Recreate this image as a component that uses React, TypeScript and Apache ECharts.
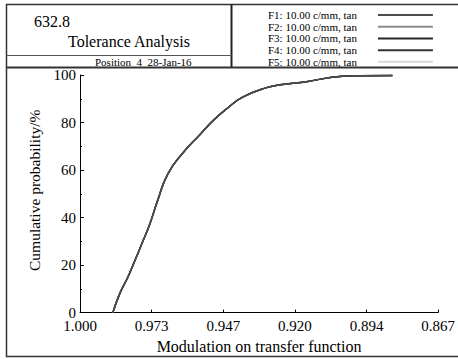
import React, { useEffect, useRef } from "react";
import * as echarts from "echarts";

// ---- data ----
const seriesNames = [
  "F1: 10.00 c/mm, tan",
  "F2: 10.00 c/mm, tan",
  "F3: 10.00 c/mm, tan",
  "F4: 10.00 c/mm, tan",
  "F5: 10.00 c/mm, tan",
];
const modulation = [
  0.9878, 0.9852, 0.9822, 0.9796, 0.977, 0.9741, 0.9711, 0.9674, 0.9618,
  0.9555, 0.9504, 0.9455, 0.9396, 0.9307, 0.9248, 0.9159, 0.9026, 0.8963,
  0.884,
];
const cumulative = [
  0, 8.1, 15, 21.9, 29.1, 37.2, 47.4, 58.3, 67.2, 74.9, 81, 85.8, 90.7, 94.7,
  96, 97.2, 99.5, 99.7, 99.8,
];
const xTicks = [1.0, 0.9734, 0.9468, 0.9202, 0.8936, 0.867];
const headerValue = "632.8";
const headerTitle = "Tolerance Analysis";
const headerSub = "Position  4  28-Jan-16";
const xName = "Modulation on transfer function";
const yName = "Cumulative probability/%";

// ---- styles ----
const FONT = "'Liberation Serif', 'Times New Roman', 'DejaVu Serif', serif";
const LINE_COLORS = ["#4d4d4d", "#8c8c8c", "#262626", "#333333", "#d9d9d9"];
const LINE_Z = [6, 3, 5, 4, 2];

export default function App() {
  const ref = useRef<HTMLDivElement>(null);
  useEffect(() => {
    if (!ref.current) return;
    const chart = echarts.init(ref.current, null, { renderer: "svg" });
    const points = modulation.map((m, i) => [m, cumulative[i]]);
    chart.setOption({
      animation: false,
      textStyle: { fontFamily: FONT },
      grid: { left: 80, right: 19, top: 75, bottom: 37.5 },
      legend: {
        orient: "vertical",
        left: 268,
        top: 9.2,
        padding: 0,
        align: "right",
        icon: "rect",
        itemWidth: 55,
        itemHeight: 2,
        itemGap: 0,
        selectedMode: false,
        data: seriesNames,
        textStyle: {
          fontFamily: FONT,
          fontSize: 11,
          lineHeight: 11.7,
          width: 88,
          padding: [0, 16, 0, 0],
          color: "#000",
        },
      },
      xAxis: {
        type: "value",
        inverse: true,
        min: 0.867,
        max: 1.0,
        name: xName,
        nameLocation: "middle",
        nameGap: 21,
        nameTextStyle: { fontFamily: FONT, fontSize: 16, color: "#000" },
        axisLine: { lineStyle: { color: "#000", width: 1 } },
        axisTick: {
          inside: true,
          length: 3,
          customValues: xTicks,
          lineStyle: { color: "#000" },
        },
        axisLabel: {
          customValues: xTicks,
          formatter: (v: number) => v.toFixed(3),
          fontFamily: FONT,
          fontSize: 15,
          lineHeight: 12,
          color: "#000",
          margin: 7,
        },
        splitLine: { show: false },
      },
      yAxis: {
        type: "value",
        min: 0,
        max: 100,
        interval: 20,
        name: yName,
        nameLocation: "middle",
        nameGap: 37,
        nameTextStyle: {
          fontFamily: FONT,
          fontSize: 15.5,
          color: "#000",
          padding: [0, 0, 0, 7],
        },
        axisLine: { show: true, lineStyle: { color: "#000", width: 1 } },
        axisTick: { show: true, inside: true, length: 4, lineStyle: { color: "#000" } },
        minorTick: { show: true, splitNumber: 2, length: 2, lineStyle: { color: "#000" } },
        axisLabel: {
          fontFamily: FONT,
          fontSize: 15,
          lineHeight: 11,
          color: "#000",
          margin: 4,
        },
        splitLine: { show: false },
      },
      series: seriesNames.map((name, i) => ({
        name,
        type: "line",
        data: points,
        smooth: 0.5,
        showSymbol: false,
        z: LINE_Z[i],
        color: LINE_COLORS[i],
        lineStyle: { color: LINE_COLORS[i], width: 1.5 },
      })),
      graphic: [
        {
          type: "rect",
          shape: { x: 6.5, y: 4.5, width: 460, height: 352 },
          style: { fill: "none", stroke: "#333", lineWidth: 1.5 },
          silent: true,
        },
        {
          type: "line",
          shape: { x1: 231.5, y1: 4.5, x2: 231.5, y2: 68 },
          style: { stroke: "#222", lineWidth: 2 },
          silent: true,
        },
        {
          type: "line",
          shape: { x1: 6.5, y1: 55.5, x2: 231.5, y2: 55.5 },
          style: { stroke: "#555", lineWidth: 1 },
          silent: true,
        },
        {
          type: "line",
          shape: { x1: 6.5, y1: 67.5, x2: 460, y2: 67.5 },
          style: { stroke: "#333", lineWidth: 2 },
          silent: true,
        },
        {
          type: "text",
          x: 34,
          y: 21,
          style: {
            text: headerValue,
            fontFamily: FONT,
            fontSize: 16,
            fill: "#000",
            verticalAlign: "middle",
          },
        },
        {
          type: "text",
          x: 68,
          y: 41,
          style: {
            text: headerTitle,
            fontFamily: FONT,
            fontSize: 16,
            fill: "#000",
            verticalAlign: "middle",
          },
        },
        {
          type: "text",
          x: 95,
          y: 61.5,
          style: {
            text: headerSub,
            fontFamily: FONT,
            fontSize: 11,
            fill: "#000",
            verticalAlign: "middle",
          },
        },
      ],
    });
    return () => chart.dispose();
  }, []);
  return (
    <div
      ref={ref}
      style={{ position: "fixed", left: 0, top: 0, width: 458, height: 359, background: "#fff" }}
    />
  );
}
